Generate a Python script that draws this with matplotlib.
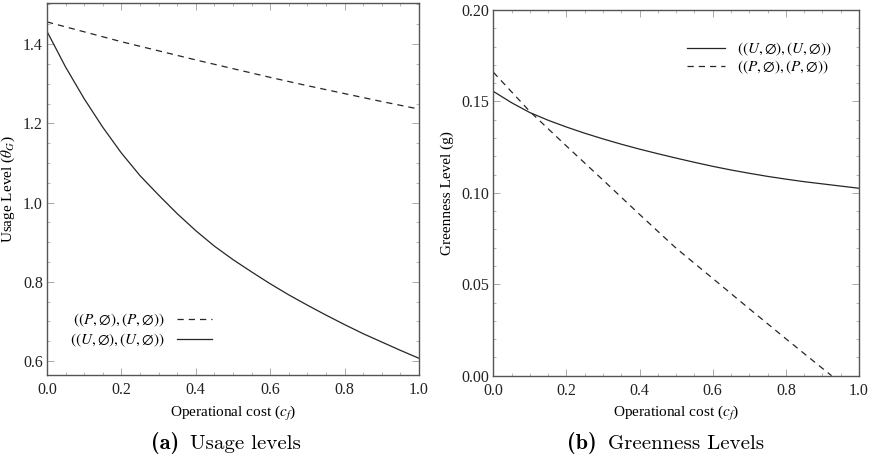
import matplotlib.pyplot as plt
from matplotlib.ticker import MultipleLocator

plt.rcParams['font.family'] = ['Liberation Serif', 'DejaVu Serif']
plt.rcParams['mathtext.fontset'] = 'stix'

# operational cost grids
cf = [0.0, 0.05, 0.1, 0.15, 0.2, 0.25, 0.3, 0.35, 0.4, 0.45, 0.5,
      0.55, 0.6, 0.65, 0.7, 0.75, 0.8, 0.85, 0.9, 0.95, 1.0]
cf_lin = [0.0, 0.1, 0.2, 0.3, 0.4, 0.5, 0.6, 0.7, 0.8, 0.9, 1.0]
cf_P = [0.0, 0.1, 0.2, 0.3, 0.4, 0.5, 0.6, 0.7, 0.8, 0.9, 0.925]

# usage levels
usage_P = [1.456, 1.431, 1.406, 1.383, 1.360, 1.338, 1.316, 1.295, 1.275, 1.255, 1.236]
usage_U = [1.432, 1.342, 1.262, 1.190, 1.125, 1.068, 1.019, 0.972, 0.929, 0.890, 0.856,
           0.825, 0.795, 0.767, 0.741, 0.716, 0.692, 0.669, 0.648, 0.627, 0.607]

# greenness levels
green_P = [0.166, 0.1445, 0.1256, 0.107, 0.0882, 0.0697, 0.0532, 0.0366, 0.0202, 0.004, 0.0]
green_U = [0.1555, 0.1493, 0.1439, 0.1397, 0.1360, 0.1326, 0.1295, 0.1266, 0.1239, 0.1214, 0.1190,
           0.1167, 0.1145, 0.1125, 0.1107, 0.1090, 0.1075, 0.1061, 0.1049, 0.1037, 0.1025]

lbl_P = r'$((P,\emptyset),(P,\emptyset))$'
lbl_U = r'$((U,\emptyset),(U,\emptyset))$'

line_col = '#262626'
frame_col = '#555555'
dash = (0, (5, 4))

fig = plt.figure(figsize=(8.72, 4.63), dpi=100)
ax1 = fig.add_axes([0.0539, 0.1894, 0.4266, 0.8035])
ax2 = fig.add_axes([0.5657, 0.1886, 0.4194, 0.7898])


def style(ax, ymaj, ymin):
    ax.xaxis.set_major_locator(MultipleLocator(0.2))
    ax.xaxis.set_minor_locator(MultipleLocator(0.05))
    ax.yaxis.set_major_locator(MultipleLocator(ymaj))
    ax.yaxis.set_minor_locator(MultipleLocator(ymin))
    ax.tick_params(which='both', direction='in', top=True, right=True,
                   color='#aaaaaa', labelsize=11.5, labelcolor='#222222')
    ax.tick_params(axis='x', pad=5)
    ax.tick_params(axis='y', pad=3)
    ax.tick_params(which='major', length=5, width=0.7)
    ax.tick_params(which='minor', length=2.5, width=0.6)
    for s in ax.spines.values():
        s.set_color(frame_col)
        s.set_linewidth(1.0)
    ax.set_xlim(0, 1)
    ax.set_xlabel(r'Operational cost ($c_f$)', fontsize=11, labelpad=4)


# (a) usage levels
ax1.plot(cf_lin, usage_P, color=line_col, lw=0.9, ls=dash, label=lbl_P)
ax1.plot(cf, usage_U, color=line_col, lw=0.9, label=lbl_U)
style(ax1, 0.2, 0.05)
ax1.set_ylim(0.564, 1.503)
ax1.yaxis.set_major_formatter(lambda v, p: f'{v:.1f}')
ax1.xaxis.set_major_formatter(lambda v, p: f'{v:.1f}')
ax1.set_ylabel(r'Usage Level ($\theta_G$)', fontsize=11, labelpad=4)
ax1.legend(loc='lower left', bbox_to_anchor=(0.025, 0.035), frameon=False,
           markerfirst=False, fontsize=11, handlelength=2.3,
           labelspacing=0.15, handletextpad=0.8)

# (b) greenness levels
ax2.plot(cf, green_U, color=line_col, lw=0.9, label=lbl_U)
ax2.plot(cf_P, green_P, color=line_col, lw=0.9, ls=dash, label=lbl_P)
style(ax2, 0.05, 0.01)
ax2.set_ylim(0, 0.2)
ax2.yaxis.set_major_formatter(lambda v, p: f'{v:.2f}')
ax2.xaxis.set_major_formatter(lambda v, p: f'{v:.1f}')
ax2.set_ylabel('Greenness Level (g)', fontsize=11, labelpad=5)
ax2.legend(loc='upper right', bbox_to_anchor=(0.965, 0.955), frameon=False,
           fontsize=11, handlelength=2.5, labelspacing=0.1, handletextpad=0.8)

# captions under each panel
fig.text(0.205, 0.030, '(a)', fontfamily='cmb10', fontsize=16, ha='right')
fig.text(0.218, 0.030, 'Usage levels', fontfamily='cmr10', fontsize=15, ha='left')
fig.text(0.684, 0.030, '(b)', fontfamily='cmb10', fontsize=16, ha='right')
fig.text(0.697, 0.030, 'Greenness Levels', fontfamily='cmr10', fontsize=15, ha='left')

fig.savefig('out.png', dpi=100)
